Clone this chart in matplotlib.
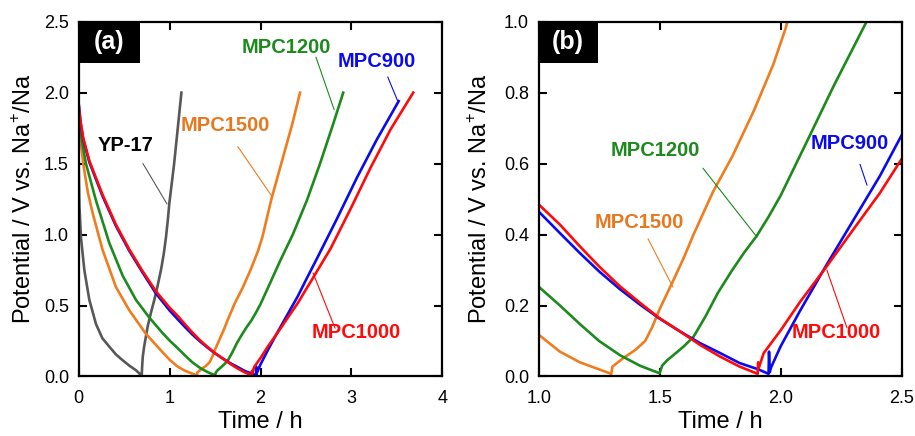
import matplotlib
matplotlib.use("Agg")
import matplotlib.pyplot as plt
from matplotlib.patches import Rectangle

plt.rcParams['font.family'] = ['Liberation Sans', 'DejaVu Sans']
plt.rcParams['mathtext.fontset'] = 'custom'
plt.rcParams['mathtext.rm'] = 'Liberation Sans'

# ---------------- data (time / h, potential / V) ----------------
t_yp17 = [0, 0.008, 0.025, 0.062, 0.117, 0.19, 0.26, 0.337, 0.41, 0.484, 0.56, 0.63, 0.67,
          0.693, 0.698, 0.705, 0.72, 0.758, 0.795, 0.832, 0.87, 0.905, 0.935, 0.96, 0.98,
          0.997, 1.05, 1.09, 1.13]
v_yp17 = [1.50, 1.20, 0.98, 0.75, 0.54, 0.37, 0.27, 0.21, 0.155, 0.114, 0.075, 0.044, 0.02,
          0.003, 0.07, 0.14, 0.21, 0.35, 0.45, 0.54, 0.645, 0.75, 0.86, 0.98, 1.10,
          1.22, 1.50, 1.75, 2.0]

t_1500 = [0, 0.01, 0.025, 0.05, 0.10, 0.154, 0.264, 0.41, 0.557, 0.74, 0.924, 1.005, 1.088,
          1.17, 1.25, 1.30, 1.305, 1.35, 1.40, 1.44, 1.47, 1.50, 1.556, 1.60, 1.64, 1.72,
          1.80, 1.89, 1.97, 2.02, 2.12, 2.25, 2.35, 2.435]
v_1500 = [1.90, 1.78, 1.64, 1.50, 1.30, 1.15, 0.89, 0.63, 0.466, 0.30, 0.17, 0.115, 0.07,
          0.04, 0.02, 0.0075, 0.028, 0.052, 0.075, 0.10, 0.14, 0.19, 0.27, 0.335, 0.40, 0.52,
          0.62, 0.75, 0.88, 0.98, 1.25, 1.55, 1.78, 2.0]

t_1200 = [0, 0.015, 0.04, 0.08, 0.19, 0.337, 0.484, 0.63, 0.777, 0.924, 1.005, 1.088, 1.17,
          1.25, 1.336, 1.42, 1.50, 1.51, 1.53, 1.56, 1.60, 1.64, 1.69, 1.74, 1.80, 1.85, 1.90,
          1.95, 2.0, 2.107, 2.22, 2.355, 2.51, 2.655, 2.80, 2.91]
v_1200 = [1.88, 1.78, 1.64, 1.50, 1.24, 0.94, 0.71, 0.54, 0.415, 0.305, 0.25, 0.20, 0.148,
          0.10, 0.06, 0.03, 0.009, 0.03, 0.045, 0.062, 0.085, 0.112, 0.17, 0.235, 0.30, 0.35,
          0.395, 0.45, 0.51, 0.66, 0.82, 1.0, 1.24, 1.50, 1.78, 2.0]

t_1000 = [0, 0.02, 0.05, 0.117, 0.263, 0.41, 0.557, 0.70, 0.85, 1.0, 1.088, 1.17, 1.25, 1.336,
          1.42, 1.50, 1.584, 1.667, 1.75, 1.83, 1.905, 1.907, 1.91, 1.93, 2.0, 2.08, 2.19, 2.30,
          2.41, 2.5, 2.545, 2.77, 2.99, 3.21, 3.43, 3.68]
v_1000 = [1.92, 1.80, 1.68, 1.52, 1.28, 1.07, 0.895, 0.745, 0.60, 0.485, 0.428, 0.367, 0.31,
          0.254, 0.207, 0.164, 0.127, 0.089, 0.056, 0.028, 0.0075, 0.04, 0.025, 0.066, 0.13,
          0.21, 0.31, 0.414, 0.517, 0.613, 0.66, 0.90, 1.18, 1.47, 1.74, 2.0]

t_900 = [0, 0.02, 0.05, 0.117, 0.263, 0.41, 0.557, 0.70, 0.85, 1.0, 1.088, 1.17, 1.25, 1.336,
         1.42, 1.50, 1.584, 1.667, 1.75, 1.83, 1.908, 1.95, 1.952, 1.955, 1.96, 2.0, 2.08,
         2.19, 2.30, 2.41, 2.5, 2.62, 2.84, 3.06, 3.28, 3.52]
v_900 = [1.92, 1.79, 1.67, 1.51, 1.27, 1.06, 0.885, 0.735, 0.585, 0.465, 0.404, 0.348, 0.296,
         0.246, 0.202, 0.163, 0.127, 0.094, 0.066, 0.038, 0.02, 0.0075, 0.07, 0.012, 0.025,
         0.085, 0.185, 0.315, 0.44, 0.565, 0.68, 0.83, 1.11, 1.40, 1.67, 1.94]

series = [
    ("YP-17", t_yp17, v_yp17, "#585858", "black"),
    ("MPC1500", t_1500, v_1500, "#F07C1E", "#E8781E"),
    ("MPC1200", t_1200, v_1200, "#1C8A1C", "#1C8A1C"),
    ("MPC900", t_900, v_900, "#0A0AF0", "#0A0AF0"),
    ("MPC1000", t_1000, v_1000, "#FF0A0A", "#FF0A0A"),
]

# ---------------- figure ----------------
fig = plt.figure(figsize=(9.15, 4.36), dpi=100)
axa = fig.add_axes([0.0860, 0.1365, 0.3974, 0.8138])
axb = fig.add_axes([0.5887, 0.1365, 0.3967, 0.8138])


def style(ax):
    for s in ax.spines.values():
        s.set_linewidth(1.6)
    ax.tick_params(direction='in', length=6, width=1.5, top=True, right=True,
                   labelsize=13, pad=7)
    ax.tick_params(axis='x', pad=10)


for ax in (axa, axb):
    for name, t, v, c, tc in series:
        if ax is axb and name == "YP-17":
            continue
        ax.plot(t, v, color=c, lw=1.9, solid_joinstyle='round')
    style(ax)
    ax.set_xlabel("Time / h", fontsize=17)
    ax.set_ylabel(r"Potential / V vs. Na$^{\mathregular{+}}$/Na", fontsize=17)

axa.set_xlim(0, 4)
axa.set_ylim(0, 2.5)
axa.set_xticks([0, 1, 2, 3, 4])
axa.set_yticks([0, 0.5, 1.0, 1.5, 2.0, 2.5])
axa.set_yticklabels(["0.0", "0.5", "1.0", "1.5", "2.0", "2.5"])
axa.xaxis.set_label_coords(0.5, -0.097)
axa.yaxis.set_label_coords(-0.118, 0.5)

axb.set_xlim(1.0, 2.5)
axb.set_ylim(0, 1.0)
axb.set_xticks([1.0, 1.5, 2.0, 2.5])
axb.set_xticklabels(["1.0", "1.5", "2.0", "2.5"])
axb.set_yticks([0, 0.2, 0.4, 0.6, 0.8, 1.0])
axb.set_yticklabels(["0.0", "0.2", "0.4", "0.6", "0.8", "1.0"])
axb.xaxis.set_label_coords(0.5, -0.097)
axb.yaxis.set_label_coords(-0.128, 0.5)

# panel tags
for ax, tag, w in ((axa, "(a)", 0.168), (axb, "(b)", 0.163)):
    h = 0.1156
    ax.add_patch(Rectangle((0, 1 - h), w, h, transform=ax.transAxes,
                           facecolor='black', edgecolor='none', zorder=5, clip_on=False))
    ax.text(w / 2, 1 - h / 2, tag, transform=ax.transAxes, color='white',
            fontsize=18, fontweight='bold', ha='center', va='center', zorder=6)

colors = {name: tc for name, t, v, c, tc in series}
lcolors = {name: c for name, t, v, c, tc in series}

# labels: (name, text pos, leader start, leader end)
labels_a = [
    ("YP-17", (0.515, 1.63), (0.707, 1.50), (0.971, 1.216)),
    ("MPC1500", (1.61, 1.77), (1.75, 1.62), (2.13, 1.265)),
    ("MPC1200", (2.285, 2.315), (2.61, 2.25), (2.81, 1.88)),
    ("MPC900", (3.28, 2.22), (3.40, 2.11), (3.51, 1.94)),
    ("MPC1000", (3.05, 0.31), (2.82, 0.34), (2.578, 0.73)),
]
labels_b = [
    ("MPC1200", (1.48, 0.638), (1.679, 0.587), (1.902, 0.393)),
    ("MPC1500", (1.414, 0.433), (1.452, 0.388), (1.555, 0.252)),
    ("MPC900", (2.286, 0.658), (2.328, 0.598), (2.357, 0.539)),
    ("MPC1000", (2.229, 0.123), (2.274, 0.137), (2.191, 0.30)),
]

for ax, labs in ((axa, labels_a), (axb, labels_b)):
    for name, tp, p0, p1 in labs:
        ax.text(tp[0], tp[1], name, color=colors[name], fontsize=14.5,
                fontweight='bold', ha='center', va='center', zorder=7)
        ax.annotate("", xy=p1, xytext=p0,
                    arrowprops=dict(arrowstyle='-', color=lcolors[name], lw=0.8,
                                    shrinkA=0, shrinkB=0))

fig.savefig("out.png", dpi=100)
